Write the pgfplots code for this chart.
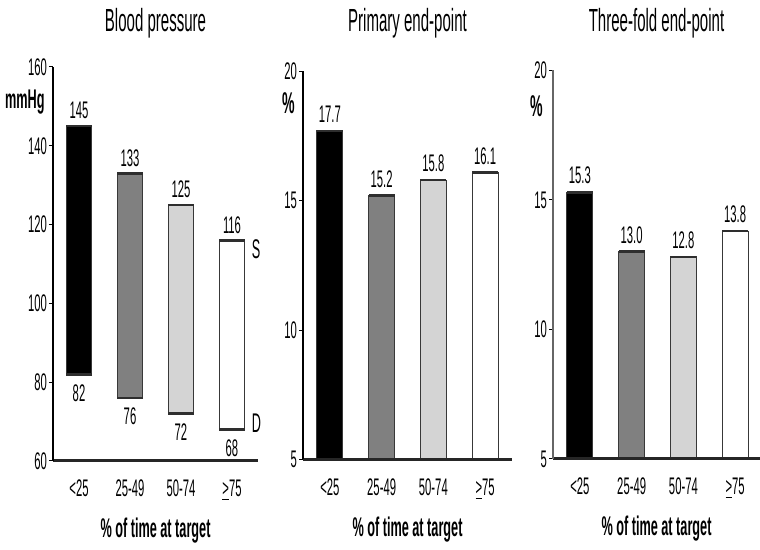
\documentclass[border=0pt]{standalone}
\usepackage{fontspec}
\setmainfont{Liberation Sans}[FakeStretch=0.47]
\usepackage{pgfplots}
\pgfplotsset{compat=1.18}

\definecolor{midgray}{gray}{0.5}
\definecolor{lgray}{gray}{0.83}
\definecolor{edge}{gray}{0.22}
\definecolor{cap}{gray}{0.18}

\pgfplotsset{
  panel/.style={
    scale only axis, anchor=south west, axis on top,
    axis x line*=bottom, axis y line*=left,
    x axis line style={line width=1.5pt, draw=black!85},
    y axis line style={line width=0.6pt, draw=black},
    xtick={0,1,2,3},
    xticklabels={<25, 25-49, 50-74, \underline{>}75},
    xtick style={draw=none},
    ytick style={line width=0.5pt, draw=black},
    tick align=outside, major tick length=2pt,
    /pgf/number format/assume math mode=true,
    xticklabel style={font=\fontsize{12}{14}\selectfont, anchor=base, yshift=-16pt},
    yticklabel style={font=\fontsize{12}{14}\selectfont, inner sep=0.8pt},
    xlabel={\textbf{\% of time at target}},
    xlabel style={font=\fontsize{13.5}{15}\selectfont, at={(axis description cs:0.5,0)}, anchor=base, yshift=-38.5pt},
    title style={font=\fontsize{16}{18}\selectfont, at={(axis description cs:0.5,1)}, anchor=base},
    ylabel style={rotate=-90, font=\bfseries\fontsize{13.5}{15}\selectfont, anchor=east, inner sep=0pt},
    every node near coord/.append style={font=\fontsize{12}{14}\selectfont, text=black},
  },
  bar/.style={ybar, bar width=13pt, bar shift=0pt, draw=edge, line width=0.5pt},
  caps/.style={only marks, mark=-, mark size=6.5pt, mark options={line width=1.3pt, draw=cap}},
}

\begin{document}
\begin{tikzpicture}
\useasboundingbox (0pt,0pt) rectangle (380pt,275pt);

% ---------------- Panel 1: Blood pressure ----------------
\begin{axis}[panel,
  at={(26.5pt,44.5pt)}, width=102.5pt, height=197pt,
  xmin=-0.51, xmax=3.51, ymin=60, ymax=160,
  ytick={60,80,100,120,140,160},
  title={Blood pressure}, title style={yshift=11.5pt},
  ylabel={mmHg}, ylabel style={at={(axis description cs:0,0.911)}, xshift=-4pt},
]
\addplot[line width=13pt, edge, line cap=butt] coordinates {(0,82) (0,145)};
\addplot[line width=12pt, black, line cap=butt] coordinates {(0,82) (0,145)};
\addplot[line width=13pt, edge, line cap=butt] coordinates {(1,76) (1,133)};
\addplot[line width=12pt, midgray, line cap=butt] coordinates {(1,76) (1,133)};
\addplot[line width=13pt, edge, line cap=butt] coordinates {(2,72) (2,125)};
\addplot[line width=12pt, lgray, line cap=butt] coordinates {(2,72) (2,125)};
\addplot[line width=13pt, edge, line cap=butt] coordinates {(3,68) (3,116)};
\addplot[line width=12pt, white, line cap=butt] coordinates {(3,68) (3,116)};
\addplot[caps] coordinates {(0,145) (1,133) (2,125) (3,116) (0,82) (1,76) (2,72) (3,68)};
% value labels
\addplot[draw=none, nodes near coords={\pgfplotspointmeta}, point meta=explicit symbolic,
  nodes near coords align={above}] coordinates {(0,145) [145] (1,133) [133] (2,125) [125] (3,116) [116]};
\addplot[draw=none, nodes near coords={\pgfplotspointmeta}, point meta=explicit symbolic,
  nodes near coords align={below}, every node near coord/.append style={yshift=-1.5pt}]
  coordinates {(0,82) [82] (1,76) [76] (2,72) [72] (3,68) [68]};
% S / D markers
\addplot[draw=none, nodes near coords={\pgfplotspointmeta}, point meta=explicit symbolic,
  nodes near coords align={right}, every node near coord/.append style={font=\fontsize{13.5}{15}\selectfont, inner sep=0pt, anchor=west}]
  coordinates {(3.38,113.8) [S] (3.38,69.6) [D]};
\end{axis}

% ---------------- Panel 2: Primary end-point ----------------
\begin{axis}[panel,
  at={(151.5pt,45.25pt)}, width=104.5pt, height=194pt,
  xmin=-0.52, xmax=3.52, ymin=5, ymax=20,
  ytick={5,10,15,20},
  title={Primary end-point}, title style={yshift=13.75pt},
  ylabel={\%}, ylabel style={at={(axis description cs:0,0.919)}, xshift=-4pt, font=\bfseries\fontsize{15}{17}\selectfont},
]
\addplot[bar, fill=black] coordinates {(0,17.7)};
\addplot[bar, fill=midgray] coordinates {(1,15.2)};
\addplot[bar, fill=lgray] coordinates {(2,15.8)};
\addplot[bar, fill=white] coordinates {(3,16.1)};
\addplot[caps] coordinates {(0,17.7) (1,15.2) (2,15.8) (3,16.1)};
\addplot[draw=none, nodes near coords={\pgfplotspointmeta}, point meta=explicit symbolic,
  nodes near coords align={above}, every node near coord/.append style={yshift=0.5pt}]
  coordinates {(0,17.7) [17.7] (1,15.2) [15.2] (2,15.8) [15.8] (3,16.1) [16.1]};
\end{axis}

% ---------------- Panel 3: Three-fold end-point ----------------
\begin{axis}[panel,
  at={(276.5pt,45.5pt)}, width=103.5pt, height=194.25pt,
  xmin=-0.52, xmax=3.48, ymin=5, ymax=20,
  ytick={5,10,15,20},
  y axis line style={draw=black!60},
  title={Three-fold end-point}, title style={yshift=13.25pt},
  ylabel={\%}, ylabel style={at={(axis description cs:0,0.909)}, xshift=-5pt, font=\bfseries\fontsize{15}{17}\selectfont},
]
\addplot[bar, fill=black] coordinates {(0,15.3)};
\addplot[bar, fill=midgray] coordinates {(1,13.0)};
\addplot[bar, fill=lgray] coordinates {(2,12.8)};
\addplot[bar, fill=white] coordinates {(3,13.8)};
\addplot[caps] coordinates {(0,15.3) (1,13.0) (2,12.8) (3,13.8)};
\addplot[draw=none, nodes near coords={\pgfplotspointmeta}, point meta=explicit symbolic,
  nodes near coords align={above}, every node near coord/.append style={yshift=0.5pt}]
  coordinates {(0,15.3) [15.3] (1,13.0) [13.0] (2,12.8) [12.8] (3,13.8) [13.8]};
\end{axis}
\end{tikzpicture}
\end{document}
